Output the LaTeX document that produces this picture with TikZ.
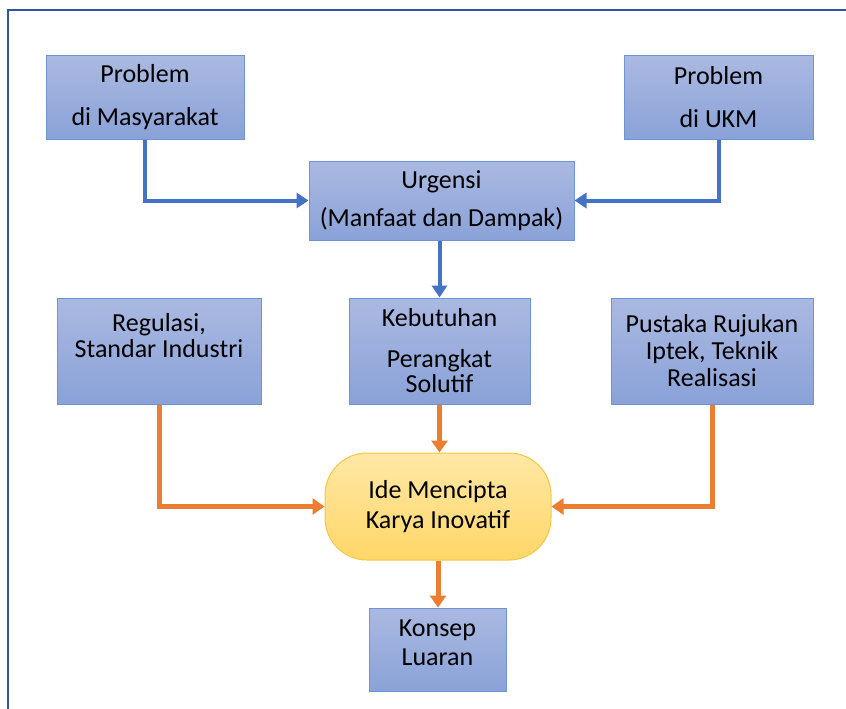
\documentclass[tikz,border=0pt]{standalone}
\usepackage{fontspec}
\setmainfont{Carlito}
\usetikzlibrary{arrows.meta}
\definecolor{boxtop}{HTML}{AAB9E1}
\definecolor{boxbot}{HTML}{8AA2D8}
\definecolor{boxline}{HTML}{6F93D3}
\definecolor{idetop}{HTML}{FFE8A6}
\definecolor{idebot}{HTML}{FFD768}
\definecolor{ideline}{HTML}{F7C642}
\definecolor{bluearr}{HTML}{4472C4}
\definecolor{orangearr}{HTML}{ED7D31}
\definecolor{framecol}{HTML}{2F54A2}
\begin{document}
\begin{tikzpicture}[x=1pt, y=-1pt,
		every node/.style={font=\fontsize{26}{27}\selectfont, align=center, inner sep=2pt},
		box/.style={draw=boxline, line width=1pt, top color=boxtop, bottom color=boxbot},
		idebox/.style={draw=ideline, line width=1pt, top color=idetop, bottom color=idebot,
				rounded corners=42pt},
		bluelink/.style={draw=bluearr, line width=4pt, -{Triangle[length=12pt,width=15pt]}},
		orangelink/.style={draw=orangearr, line width=5pt, -{Triangle[length=12pt,width=16pt]}}]
		\useasboundingbox (0,0) rectangle (846,709);
		\fill[white] (0,0) rectangle (846,709);
		\draw[framecol, line width=2pt] (8,712) -- (8,10) -- (850,10);
		% top row
		\node[box, minimum width=198pt, minimum height=83pt] (masy) at (145,97.5)
			{Problem\\[16pt]di Masyarakat};
		\node[box, minimum width=189pt, minimum height=83pt] (ukm) at (718.5,97.5)
			{Problem\\[16pt]di UKM};
		\node[box, minimum width=265pt, minimum height=79pt] (urg) at (441.5,200.5)
			{Urgensi\\[11pt](Manfaat dan Dampak)};
		% middle row
		\node[box, minimum width=204pt, minimum height=106pt] (reg) at (159,351)
			{Regulasi,\\[-1pt]Standar Industri\\[4pt]\phantom{X}};
		\node[box, minimum width=181pt, minimum height=106pt] (keb) at (439.5,351)
			{Kebutuhan\\[14pt]Perangkat\\[-2pt]Solutif};
		\node[box, minimum width=202pt, minimum height=106pt] (pus) at (712,351)
			{Pustaka Rujukan\\Iptek, Teknik\\Realisasi};
		% bottom
		\node[idebox, minimum width=226pt, minimum height=107pt] (ide) at (438,506.5)
			{Ide Mencipta\\[3pt]Karya Inovatif};
		\node[box, minimum width=137pt, minimum height=83pt] (kons) at (437.5,649.5)
			{Konsep\\[2pt]Luaran\\[-14pt]\phantom{X}};
		% links
		\draw[bluelink] (masy.south) |- (urg.west);
		\draw[bluelink] (ukm.south) |- (urg.east);
		\draw[bluelink] (keb.north |- urg.south) -- (keb.north);
		\draw[orangelink] (reg.south) |- (ide.west);
		\draw[orangelink] (pus.south) |- (ide.east);
		\draw[orangelink] (keb.south) -- (keb.south |- ide.north);
		\draw[orangelink] (ide.south) -- (ide.south |- kons.north);
	\end{tikzpicture}
\end{document}
